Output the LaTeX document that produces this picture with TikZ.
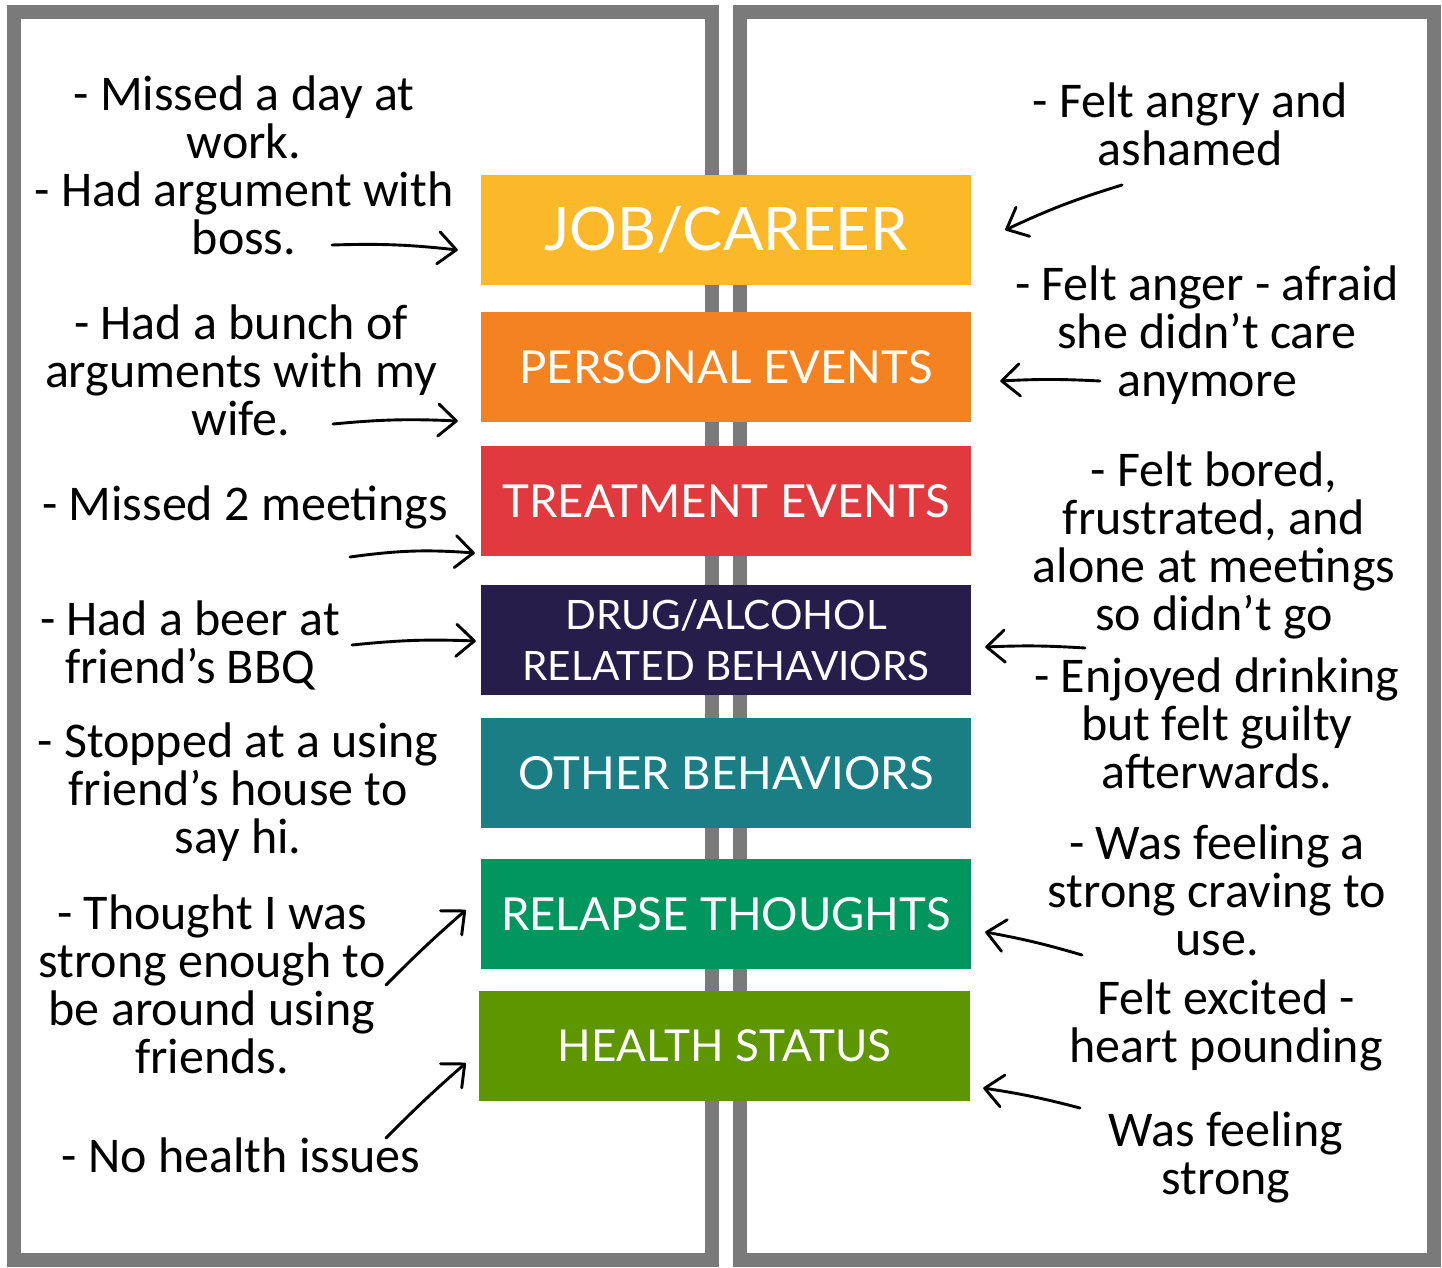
\documentclass[tikz,border=0pt]{standalone}
\usepackage{fontspec}
\setmainfont{Carlito}
\newfontfamily\boxfont{Lato}
\usetikzlibrary{arrows.meta,calc}

\definecolor{panelgray}{HTML}{7A7A7A}
\definecolor{cJob}{HTML}{FBB829}
\definecolor{cPersonal}{HTML}{F58220}
\definecolor{cTreatment}{HTML}{E03A3E}
\definecolor{cDrug}{HTML}{261D4A}
\definecolor{cOther}{HTML}{1B7E85}
\definecolor{cRelapse}{HTML}{00965E}
\definecolor{cHealth}{HTML}{5E9600}

\begin{document}
\begin{tikzpicture}[x=1pt,y=-1pt,
  panel/.style={draw=panelgray,line width=14pt},
  cat/.style={minimum width=490pt,minimum height=110pt,inner sep=0pt,
    text=white,align=center,font=\boxfont\fontsize{45.5}{51}\selectfont},
  note/.style={align=center,inner sep=0pt,font=\fontsize{50}{48}\selectfont},
  arr/.style={line width=2.9pt,line cap=round,
    -{Straight Barb[length=18pt,width=32pt,line width=2.9pt,round]}}]

\useasboundingbox (0,0) rectangle (1442,1267);
\fill[white] (0,0) rectangle (1442,1267);

% two framed panels
\draw[panel] (14,12) rectangle (712,1260);
\draw[panel] (740,12) rectangle (1434,1260);

% category bars
\node[cat,fill=cJob,font=\boxfont\fontsize{60}{60}\selectfont] (job) at (726,230) {JOB/CAREER};
\node[cat,fill=cPersonal] (personal) at (726,367) {PERSONAL EVENTS};
\node[cat,fill=cTreatment] (treatment) at (726,501) {TREATMENT EVENTS};
\node[cat,fill=cDrug,font=\boxfont\fontsize{40.5}{51}\selectfont] (drug) at (726,640) {DRUG/ALCOHOL\\RELATED BEHAVIORS};
\node[cat,fill=cOther] (other) at (726,773) {OTHER BEHAVIORS};
\node[cat,fill=cRelapse] (relapse) at (726,914) {RELAPSE THOUGHTS};
\node[cat,fill=cHealth,minimum width=491pt,font=\boxfont\fontsize{44}{51}\selectfont] (health) at (724.5,1046) {HEALTH STATUS};

% events (left panel)
\node[note] (l1) at (244,165) {- Missed a day at\\work.\\- Had argument with\\boss.};
\node[note] (l2) at (241,370) {- Had a bunch of\\arguments with my\\wife.};
\node[note] (l3) at (245,507) {- Missed 2 meetings};
\node[note] (l4) at (190,645) {- Had a beer at\\friend’s BBQ};
\node[note] (l5) at (238,792) {- Stopped at a using\\friend’s house to\\say hi.};
\node[note] (l6) at (212,984) {- Thought I was\\strong enough to\\be around using\\friends.};
\node[note] (l7) at (241,1155) {- No health issues};

% feelings (right panel)
\node[note] (r1) at (1190,124) {- Felt angry and\\ashamed};
\node[note] (r2) at (1207,335) {- Felt anger - afraid\\she didn’t care\\anymore};
\node[note] (r3) at (1214,545) {- Felt bored,\\frustrated, and\\alone at meetings\\so didn’t go};
\node[note] (r4) at (1217,723) {- Enjoyed drinking\\but felt guilty\\afterwards.};
\node[note] (r5) at (1217,890) {- Was feeling a\\strong craving to\\use.};
\node[note] (r6) at (1226,1025) {Felt excited -\\heart pounding};
\node[note] (r7) at (1226,1157) {Was feeling\\strong};

% arrow tails
\coordinate (t1) at (332,245);
\coordinate (t2) at (333,424);
\coordinate (t3) at (350,557);
\coordinate (t4) at (352,645);
\coordinate (t5) at (386,985);
\coordinate (t6) at (386,1138);
\coordinate (u1) at (1122,185);
\coordinate (u2) at (1100,381);
\coordinate (u3) at (1085,648);
\coordinate (u4) at (1082,955);
\coordinate (u5) at (1080,1108);

% arrows into the bars
\draw[arr] (t1) to[bend left=4] ([shift={(-23,20)}]job.west);
\draw[arr] (t2) to[bend left=4] ([shift={(-23,54)}]personal.west);
\draw[arr] (t3) to[bend left=6] ([shift={(-6,52)}]treatment.west);
\draw[arr] (t4) to[bend left=4] ([shift={(-5,1)}]drug.west);
\draw[arr] (t5) to[bend left=2] ([shift={(-15,-4)}]relapse.west);
\draw[arr] (t6) to[bend left=2] ([shift={(-13,17)}]health.west);
\draw[arr] (u1) to[bend right=4] ([shift={(34,0)}]job.east);
\draw[arr] (u2) to[bend right=3] ([shift={(29,14)}]personal.east);
\draw[arr] (u3) to[bend right=3] ([shift={(14,7)}]drug.east);
\draw[arr] (u4) to[bend right=3] ([shift={(14,18)}]relapse.east);
\draw[arr] (u5) to[bend right=3] ([shift={(13,42)}]health.east);
\end{tikzpicture}
\end{document}
